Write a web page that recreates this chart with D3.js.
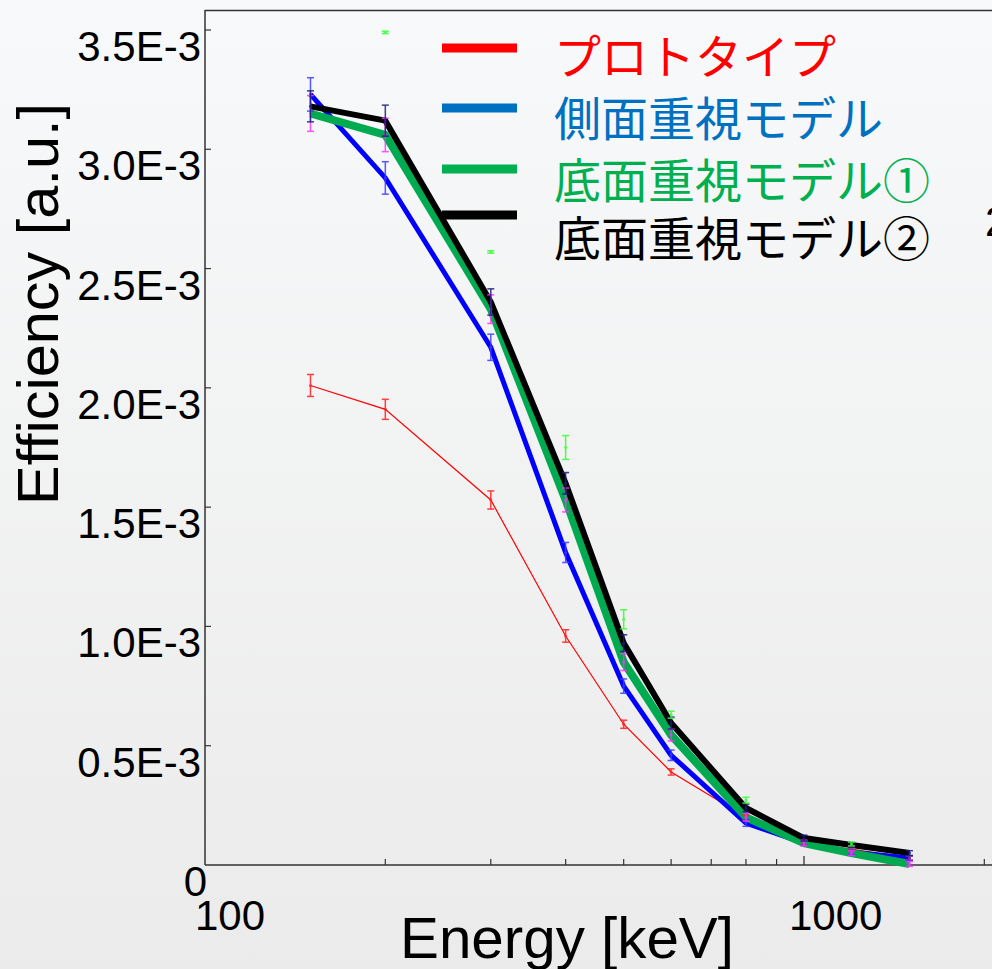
<!DOCTYPE html>
<html>
<head>
<meta charset="utf-8">
<script src="https://cdn.jsdelivr.net/npm/d3@7"></script>
<style>
  html, body { margin: 0; padding: 0; overflow: hidden; }
  svg { display: block; }
  text { font-family: "Liberation Sans", Arial, sans-serif; }
  .jp { font-family: "Noto Sans CJK JP", "Noto Sans CJK SC", sans-serif; }
</style>
</head>
<body>
<div id="chart"></div>
<script>
const W = 992, H = 969;

// energies [keV]
const energies = [150, 200, 300, 400, 500, 600, 800, 1000, 1200, 1500];

// efficiencies in units of 1E-3
const prototype = [2.01, 1.91, 1.53, 0.96, 0.59, 0.39, 0.20, 0.092, 0.067, 0.029];
const prototypeErr = [0.046, 0.042, 0.038, 0.026, 0.017, 0.013, 0.01, 0.008, 0.008, 0.008];

const sideModel = [3.23, 2.88, 2.17, 1.31, 0.75, 0.46, 0.176, 0.092, 0.054, 0.029];
const sideErr = [0.07, 0.068, 0.055, 0.042, 0.03, 0.022, 0.014, 0.01, 0.01, 0.01];

const bottomModel1 = [3.15, 3.06, 2.33, 1.53, 0.85, 0.545, 0.20, 0.092, 0.05, 0.004];
const bottomErr1 = [0.075, 0.07, 0.06, 0.05, 0.035, 0.025, 0.016, 0.012, 0.01, 0.01];

const bottomModel2 = [3.18, 3.12, 2.36, 1.60, 0.93, 0.595, 0.239, 0.113, 0.084, 0.05];
const bottomErr2 = [0.065, 0.065, 0.055, 0.045, 0.035, 0.025, 0.016, 0.012, 0.01, 0.01];

// stray error bars of a series without a line (lime)
const extraEnergies = [200, 300, 400, 500, 600, 800, 1200];
const extraValues = [3.49, 2.57, 1.75, 1.03, 0.63, 0.272, 0.088];
const extraErr = [0.005, 0.005, 0.05, 0.04, 0.015, 0.012, 0.008];

const legendLabels = ["プロトタイプ", "側面重視モデル", "底面重視モデル①", "底面重視モデル②"];
const legendColors = ["#ff0000", "#0070c0", "#00b050", "#000000"];

const yTicks = [0, 0.5, 1.0, 1.5, 2.0, 2.5, 3.0, 3.5];
const yTickLabels = ["0", "0.5E-3", "1.0E-3", "1.5E-3", "2.0E-3", "2.5E-3", "3.0E-3", "3.5E-3"];
const xMinorTicks = [200, 300, 400, 500, 600, 700, 800, 900, 2000];
const xMajorTicks = [100, 1000];

const series = [
  { values: prototype, err: prototypeErr, color: "#ff0000", width: 1.2, errColor: "#ff2020" },
  { values: sideModel, err: sideErr, color: "#0000ff", width: 5, errColor: "#3b3bff" },
  { values: bottomModel1, err: bottomErr1, color: "#00aa50", width: 8, errColor: "#ff33ff" },
  { values: bottomModel2, err: bottomErr2, color: "#000000", width: 6, errColor: "#1a1a80" },
];

const x = d3.scaleLog().domain([100, 1000]).range([205, 804]);
const y = d3.scaleLinear().domain([0, 3.5]).range([865, 30]);

const svg = d3.select("#chart").append("svg").attr("width", W).attr("height", H);

const defs = svg.append("defs");
const grad = defs.append("linearGradient").attr("id", "bg").attr("x1", 0).attr("y1", 0).attr("x2", 0).attr("y2", 1);
grad.append("stop").attr("offset", "0%").attr("stop-color", "#f8f9fa");
grad.append("stop").attr("offset", "100%").attr("stop-color", "#ebebeb");
svg.append("rect").attr("width", W).attr("height", H).attr("fill", "url(#bg)");

// frame
const axisColor = "#333";
svg.append("line").attr("x1", 205).attr("x2", 205).attr("y1", 10).attr("y2", 865)
  .attr("stroke", axisColor).attr("stroke-width", 1.5);
svg.append("line").attr("x1", 205).attr("x2", W).attr("y1", 10.5).attr("y2", 10.5)
  .attr("stroke", axisColor).attr("stroke-width", 1.3);
svg.append("line").attr("x1", 205).attr("x2", W).attr("y1", 865).attr("y2", 865)
  .attr("stroke", axisColor).attr("stroke-width", 1.5);

// y ticks + labels
svg.selectAll("line.ytick").data(yTicks.slice(1)).join("line")
  .attr("x1", 205).attr("x2", 211)
  .attr("y1", d => y(d)).attr("y2", d => y(d))
  .attr("stroke", axisColor).attr("stroke-width", 1.2);

svg.selectAll("text.ylab").data(yTicks).join("text")
  .attr("x", (d, i) => i === 0 ? 207 : 201)
  .attr("y", d => y(d) + 31)
  .attr("text-anchor", "end")
  .attr("font-size", 42)
  .attr("fill", "#000")
  .text((d, i) => yTickLabels[i]);

// x ticks
svg.selectAll("line.xminor").data(xMinorTicks).join("line")
  .attr("x1", d => x(d)).attr("x2", d => x(d))
  .attr("y1", 865).attr("y2", 859)
  .attr("stroke", axisColor).attr("stroke-width", 1.2);
svg.append("line").attr("x1", x(1000)).attr("x2", x(1000)).attr("y1", 865).attr("y2", 856)
  .attr("stroke", axisColor).attr("stroke-width", 1.3);

svg.selectAll("text.xlab").data(xMajorTicks).join("text")
  .attr("x", d => x(d) - 10 - (d === 1000 ? 5 : 0))
  .attr("y", 930)
  .attr("font-size", 42)
  .attr("fill", "#000")
  .text(d => d);

// axis titles
svg.append("text")
  .attr("x", 567).attr("y", 958)
  .attr("text-anchor", "middle")
  .attr("font-size", 57)
  .attr("textLength", 334)
  .attr("lengthAdjust", "spacingAndGlyphs")
  .text("Energy [keV]");

svg.append("text")
  .attr("transform", "translate(58,304) rotate(-90)")
  .attr("text-anchor", "middle")
  .attr("font-size", 57)
  .attr("textLength", 402)
  .attr("lengthAdjust", "spacingAndGlyphs")
  .text("Efficiency [a.u.]");

// fragment of the neighbouring chart's label at the right edge
svg.append("text").attr("x", 985).attr("y", 236).attr("font-size", 42).text("2");

// data lines
const plot = svg.append("g");
const line = d3.line().x(d => x(d[0])).y(d => y(d[1]));

series.forEach(s => {
  plot.append("path")
    .datum(energies.map((e, i) => [e, s.values[i]]))
    .attr("d", line)
    .attr("fill", "none")
    .attr("stroke", s.color)
    .attr("stroke-width", s.width)
    .attr("stroke-linejoin", "miter");
});

// error bars
function drawErrorBars(xs, vals, errs, color) {
  const g = plot.append("g").attr("stroke", color).attr("stroke-width", 1.5).attr("opacity", 0.85);
  xs.forEach((e, i) => {
    const cx = x(e), y0 = y(vals[i] - errs[i]), y1 = y(vals[i] + errs[i]);
    g.append("line").attr("x1", cx).attr("x2", cx).attr("y1", y0).attr("y2", y1);
    g.append("line").attr("x1", cx - 3.5).attr("x2", cx + 3.5).attr("y1", y0).attr("y2", y0);
    g.append("line").attr("x1", cx - 3.5).attr("x2", cx + 3.5).attr("y1", y1).attr("y2", y1);
    g.append("circle").attr("cx", cx).attr("cy", y(vals[i])).attr("r", 1.5).attr("fill", color).attr("stroke", "none");
  });
}
series.forEach(s => drawErrorBars(energies, s.values, s.err, s.errColor));
drawErrorBars(extraEnergies, extraValues, extraErr, "#33ff33");

// legend
const legend = svg.append("g");
const legendLineY = [48, 108, 169, 215];
const legendTextY = [74, 136, 198, 256];
legendLabels.forEach((lab, i) => {
  legend.append("line")
    .attr("x1", 442).attr("x2", 517)
    .attr("y1", legendLineY[i]).attr("y2", legendLineY[i])
    .attr("stroke", legendColors[i]).attr("stroke-width", 9);
  legend.append("text")
    .attr("class", "jp")
    .attr("x", 554).attr("y", legendTextY[i])
    .attr("font-size", 47)
    .attr("fill", legendColors[i])
    .text(lab);
});
</script>
</body>
</html>
